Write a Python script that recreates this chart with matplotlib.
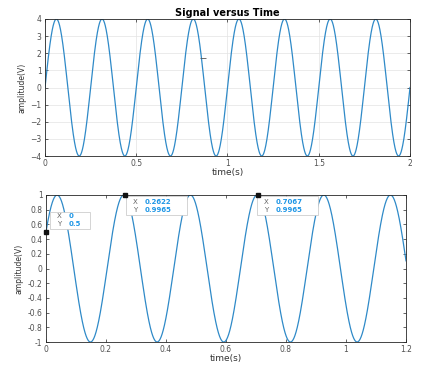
import numpy as np
import matplotlib.pyplot as plt
from matplotlib.patches import Rectangle
from matplotlib.transforms import Affine2D, ScaledTranslation

# signal parameters
top_amp = 4.0          # volts
top_freq = 4.0         # Hz (8 cycles in 2 s)
top_tmax = 2.0
bot_amp = 1.0
bot_freq = 4.5         # Hz (peaks ~0.222 s apart)
bot_phase = np.pi / 6  # y(0) = 0.5
bot_tmax = 1.2

top_yticks = [-4, -3, -2, -1, 0, 1, 2, 3, 4]
top_xticks = [0, 0.5, 1, 1.5, 2]
bot_yticks = [-1, -0.8, -0.6, -0.4, -0.2, 0, 0.2, 0.4, 0.6, 0.8, 1]
bot_xticks = [0, 0.2, 0.4, 0.6, 0.8, 1, 1.2]

# data tips shown on the lower plot
tip_x = [0, 0.2622, 0.7067]
tip_y = [0.5, 0.9965, 0.9965]
tip_xlabels = ["0", "0.2622", "0.7067"]
tip_ylabels = ["0.5", "0.9965", "0.9965"]

LINE = "#2f8ac8"
TICK = "#505050"
TIPBLUE = "#1e96e6"

plt.rcParams["font.family"] = ["DejaVu Sans"]

fig = plt.figure(figsize=(4.25, 3.69), dpi=100)
W, H = 425, 369


def axes_px(left, top, right, bottom):
    return fig.add_axes([left / W, 1 - bottom / H, (right - left) / W, (bottom - top) / H])


def style(ax):
    for s in ax.spines.values():
        s.set_color("#262626")
        s.set_linewidth(0.6)
    ax.tick_params(direction="in", length=2.5, width=0.5, labelsize=5.5,
                   labelcolor=TICK, colors="#262626", top=True, right=True,
                   labeltop=False, labelright=False, pad=2.5)


def ylab(ax, text):
    ax.set_ylabel(text, fontsize=5.5, color="#333333", labelpad=3,
                  family="Liberation Sans Narrow")


# top plot
ax1 = axes_px(45, 19, 410, 156)
t1 = np.linspace(0, top_tmax, 2001)
ax1.plot(t1, top_amp * np.sin(2 * np.pi * top_freq * t1), color=LINE, lw=0.9)
ax1.set_xlim(0, top_tmax)
ax1.set_ylim(-top_amp, top_amp)
ax1.set_xticks(top_xticks)
ax1.set_xticklabels(["0", "0.5", "1", "1.5", "2"])
ax1.set_yticks(top_yticks)
ax1.grid(True, color="#e3e3e3", lw=0.5)
ax1.set_axisbelow(True)
style(ax1)
ax1.set_title("Signal versus Time", fontsize=7, fontweight="bold", pad=2)
ax1.set_xlabel("time(s)", fontsize=6.5, color="#333333", labelpad=-0.5)
ylab(ax1, "amplitude(V)")
ax1.plot([0.865], [1.72], marker="_", color="#555555", ms=4, mew=0.6)

# bottom plot
ax2 = axes_px(46, 195, 406, 342)
t2 = np.linspace(0, bot_tmax, 2001)
ax2.plot(t2, bot_amp * np.sin(2 * np.pi * bot_freq * t2 + bot_phase), color=LINE, lw=0.9)
ax2.set_xlim(0, bot_tmax)
ax2.set_ylim(-1, 1)
ax2.set_xticks(bot_xticks)
ax2.set_xticklabels(["0", "0.2", "0.4", "0.6", "0.8", "1", "1.2"])
ax2.set_yticks(bot_yticks)
ax2.set_yticklabels(["-1", "-0.8", "-0.6", "-0.4", "-0.2", "0", "0.2", "0.4", "0.6", "0.8", "1"])
style(ax2)
ax2.set_xlabel("time(s)", fontsize=6.5, color="#333333", labelpad=0)
ylab(ax2, "amplitude(V)")

# data tips; box placement in pixels relative to the tip point (y down)
# (box left, box top, box width, box height)
boxes = [(4, -20, 40, 17), (1, 1, 61, 19), (-1, 1, 61, 19)]
for x, y, xl, yl, (bx, by, bw, bh) in zip(tip_x, tip_y, tip_xlabels, tip_ylabels, boxes):
    tr = Affine2D().scale(1, -1) + ScaledTranslation(x, y, ax2.transData)
    ax2.add_patch(Rectangle((bx, by), bw, bh, transform=tr, fc="white",
                            ec="#c4c4c4", lw=0.5, clip_on=False, zorder=6))
    ax2.plot([x], [y], marker="s", color="#111111", ms=2.2, clip_on=False, zorder=8)
    row1 = by + bh / 2 - 3.8
    row2 = by + bh / 2 + 3.8
    for ry, lab, val in [(row1, "X", xl), (row2, "Y", yl)]:
        ax2.text(bx + 7, ry, lab, transform=tr, fontsize=5, color="#666666",
                 va="center", ha="left", zorder=7, clip_on=False)
        ax2.text(bx + 19, ry, val, transform=tr, fontsize=5, color=TIPBLUE,
                 fontweight="bold", va="center", ha="left", zorder=7, clip_on=False)

fig.savefig("out.png", dpi=100)
